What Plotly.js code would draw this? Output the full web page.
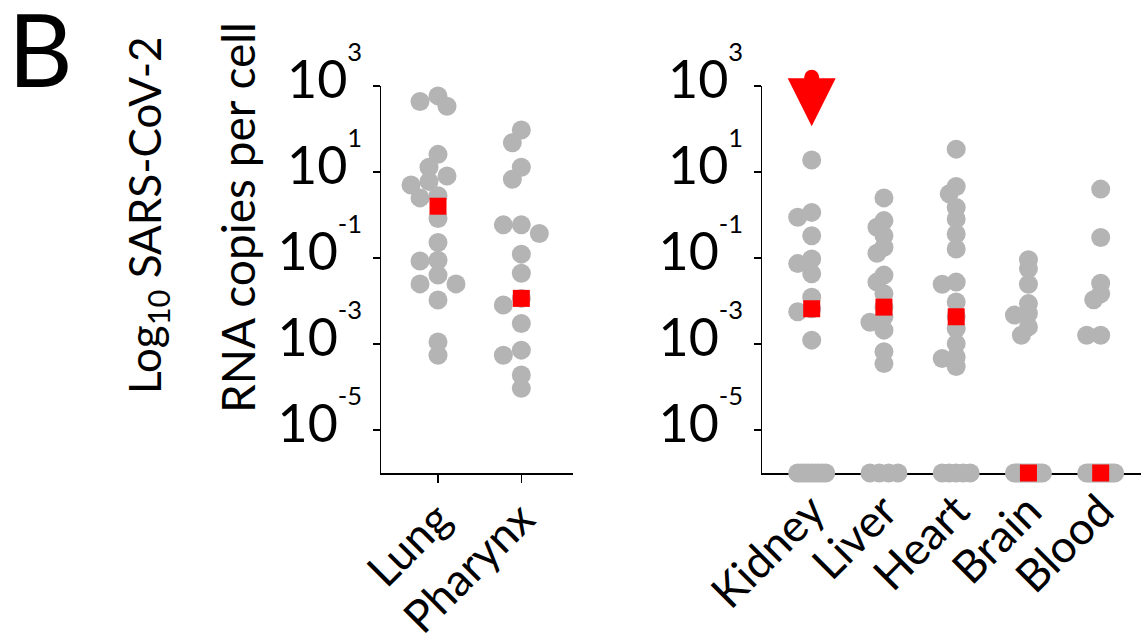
<!DOCTYPE html>
<html><head><meta charset="utf-8">
<script src="https://cdn.plot.ly/plotly-3.0.1.min.js"></script>
<style>html,body{margin:0;padding:0;background:#fff;} #chart{width:1141px;height:643px;}</style>
</head><body><div id="chart"></div>
<script>
// ---------- data (RNA copies per cell; 0 = not detected) ----------
const leftCategories = ['Lung', 'Pharynx'];
const rightCategories = ['Kidney', 'Liver', 'Heart', 'Brain', 'Blood'];

const lung    = [589, 437, 339, 25.7, 12.9, 8.1, 6.0, 5.0, 2.8, 2.5, 0.83, 0.23, 0.089, 0.085, 0.040, 0.025, 0.025, 0.0105, 0.00112, 0.00055];
const pharynx = [95, 48, 12.9, 6.8, 0.59, 0.59, 0.37, 0.123, 0.044, 0.0115, 0.0081, 0.0030, 0.00072, 0.00055, 0.00019, 0.000093];
const kidney  = [19, 1.15, 0.89, 0.33, 0.095, 0.074, 0.043, 0.0123, 0.0066, 0.0056, 0.00123, 0, 0, 0, 0, 0, 0, 0, 0, 0];
const liver   = [2.5, 0.74, 0.52, 0.33, 0.178, 0.129, 0.040, 0.0275, 0.0148, 0.0072, 0.0043, 0.0032, 0.0021, 0.00066, 0.00035, 0, 0, 0, 0];
const heart   = [34, 4.6, 3.1, 1.5, 0.81, 0.36, 0.162, 0.0275, 0.0245, 0.0095, 0.0043, 0.0023, 0.00102, 0.0005, 0.00046, 0.0003, 0, 0, 0, 0, 0];
const brain   = [0.091, 0.056, 0.0245, 0.0087, 0.0051, 0.0047, 0.0025, 0.0016, 0, 0, 0, 0, 0, 0, 0, 0, 0, 0, 0, 0];
const blood   = [4.0, 0.30, 0.026, 0.0148, 0.0107, 0.0016, 0.0016, 0, 0, 0, 0, 0, 0, 0, 0, 0, 0, 0, 0];

const leftMedians  = [1.6, 0.0115];
const rightMedians = [0.0066, 0.0072, 0.0043, 0, 0];
const kidneyOffScale = [1600];   // value above the axis maximum

const yTickVals = [1e-5, 1e-3, 1e-1, 1e1, 1e3];
const yTickText = ['10<sup><sup>-5</sup></sup>', '10<sup><sup>-3</sup></sup>', '10<sup><sup>-1</sup></sup>',
                   '10<sup><sup>1</sup></sup>', '10<sup><sup>3</sup></sup>'];

// ---------- geometry / style ----------
const W = 1141, H = 643, MT = 40, MB = 170;
const AXIS_TOP_PX = 86;                       // where 10^3 sits
const fullH = H - MT - MB;                    // overlay area height
const plotH = H - AXIS_TOP_PX - MB;           // visible axes height
const yLogRange = [-6, 3];
const pxPerDecade = plotH / (yLogRange[1] - yLogRange[0]);
const overlayRange = [yLogRange[0], yLogRange[1] + (AXIS_TOP_PX - MT) / pxPerDecade];
const FLOOR = Math.pow(10, yLogRange[0]);     // not-detected row drawn on the axis
const leftPx = [381, 573], rightPx = [762, 1141];
const leftRange = [-0.684, 1.62], rightRange = [-0.688, 4.558];
const leftPPU = (leftPx[1] - leftPx[0]) / (leftRange[1] - leftRange[0]);
const rightPPU = (rightPx[1] - rightPx[0]) / (rightRange[1] - rightRange[0]);
const GREY = '#b4b4b4', RED = '#ff0000';
const FONT = 'Lato, "Open Sans", sans-serif';
const py2paper = py => (H - MB - py) / fullH;

function swarm(vals, ppu, S, D) {
  const ZW = 14;
  const offs = new Array(vals.length).fill(0);
  const zeros = [], pos = [];
  vals.forEach((v, i) => (v > 0 ? pos : zeros).push(i));
  zeros.forEach((i, k) => {
    offs[i] = zeros.length > 1 ? (-ZW + 2 * ZW * k / (zeros.length - 1)) / ppu : 0;
  });
  const order = pos.slice().sort((a, b) => vals[b] - vals[a]);
  const placed = [];
  const cands = [0, -S, S, -2 * S, 2 * S, -3 * S, 3 * S];
  for (const i of order) {
    const py = -Math.log10(vals[i]) * pxPerDecade;
    let best = 0, bestScore = -1;
    for (const c of cands) {
      let minD = Infinity;
      for (const p of placed) minD = Math.min(minD, Math.hypot(p.x - c, p.y - py));
      if (minD >= D) { best = c; break; }
      if (minD > bestScore) { bestScore = minD; best = c; }
    }
    placed.push({x: best, y: py});
    offs[i] = best / ppu;
  }
  return offs;
}

function panelPoints(groups, ppu, S, D) {
  const xs = [], ys = [];
  groups.forEach((vals, c) => {
    const offs = swarm(vals, ppu, S, D);
    vals.forEach((v, i) => { xs.push(c + offs[i]); ys.push(v > 0 ? v : FLOOR); });
  });
  return {xs, ys};
}

const L = panelPoints([lung, pharynx], leftPPU, 9, 13);
const R = panelPoints([kidney, liver, heart, brain, blood], rightPPU, 7, 9);

const ARROW_SIZE = 48, ARROW_DROP_PX = 49;
const offIdx = rightCategories.indexOf('Kidney');

const traces = [
  {type: 'scatter', mode: 'markers', x: L.xs, y: L.ys, xaxis: 'x', yaxis: 'y', cliponaxis: false,
   marker: {color: GREY, size: 19, line: {width: 0}}, hoverinfo: 'y'},
  {type: 'scatter', mode: 'markers', x: R.xs, y: R.ys, xaxis: 'x2', yaxis: 'y2', cliponaxis: false,
   marker: {color: GREY, size: 19, line: {width: 0}}, hoverinfo: 'y'},
  {type: 'scatter', mode: 'markers', x: leftMedians.map((_, i) => i), y: leftMedians.map(v => v > 0 ? v : FLOOR),
   xaxis: 'x', yaxis: 'y', cliponaxis: false, marker: {symbol: 'square', color: RED, size: 17, line: {width: 0}}},
  {type: 'scatter', mode: 'markers', x: rightMedians.map((_, i) => i), y: rightMedians.map(v => v > 0 ? v : FLOOR),
   xaxis: 'x2', yaxis: 'y2', cliponaxis: false, marker: {symbol: 'square', color: RED, size: 17, line: {width: 0}}},
  {type: 'scatter', mode: 'markers', x: kidneyOffScale.map(() => offIdx), y: kidneyOffScale,
   xaxis: 'x2', yaxis: 'y3', cliponaxis: false, marker: {symbol: 'circle', color: RED, size: 15, line: {width: 0}}},
  {type: 'scatter', mode: 'markers', x: kidneyOffScale.map(() => offIdx),
   y: kidneyOffScale.map(v => Math.pow(10, Math.log10(v) - ARROW_DROP_PX / pxPerDecade)),
   xaxis: 'x2', yaxis: 'y3', cliponaxis: false, marker: {symbol: 'arrow-down', color: RED, size: ARROW_SIZE, line: {width: 0}}}
];

const visDomain = [0, plotH / fullH];
const yAxisBase = {
  type: 'log', range: yLogRange, domain: visDomain, tickvals: yTickVals, ticktext: yTickText,
  ticks: 'outside', ticklen: 7, tickwidth: 1.5, tickcolor: '#000', ticklabelshift: -6,
  showline: true, linecolor: '#000', linewidth: 1.5, showgrid: false, zeroline: false,
  tickfont: {family: FONT, size: 52, color: '#000'}, layer: 'below traces', fixedrange: true
};
const xAxisBase = {
  showline: true, linecolor: '#000', linewidth: 1.5, showgrid: false, zeroline: false,
  tickangle: -45, tickfont: {family: FONT, size: 45, color: '#000'}, ticklabelstandoff: -8,
  layer: 'below traces', fixedrange: true
};

const layout = {
  width: W, height: H, margin: {l: 0, r: 0, t: MT, b: MB},
  paper_bgcolor: '#fff', plot_bgcolor: 'rgba(0,0,0,0)', showlegend: false,
  font: {family: FONT, color: '#000'},
  xaxis: Object.assign({}, xAxisBase, {domain: [leftPx[0] / W, leftPx[1] / W], range: leftRange, anchor: 'y',
    tickvals: leftCategories.map((_, i) => i), ticktext: leftCategories, ticks: 'outside', ticklen: 8, tickwidth: 1.5, tickcolor: '#000'}),
  yaxis: Object.assign({}, yAxisBase, {anchor: 'x'}),
  xaxis2: Object.assign({}, xAxisBase, {domain: [rightPx[0] / W, rightPx[1] / W], range: rightRange, anchor: 'y2',
    tickvals: rightCategories.map((_, i) => i), ticktext: rightCategories, ticks: ''}),
  yaxis2: Object.assign({}, yAxisBase, {anchor: 'x2'}),
  yaxis3: {type: 'log', range: overlayRange, domain: [0, 1], anchor: 'x2', visible: false,
           showgrid: false, zeroline: false, fixedrange: true},
  annotations: [
    {text: 'B', xref: 'paper', yref: 'paper', x: 40 / W, y: py2paper(48), showarrow: false,
     xanchor: 'center', yanchor: 'middle', font: {family: FONT, size: 100, color: '#000'}},
    {text: 'Log<sub>10</sub> SARS-CoV-2', xref: 'paper', yref: 'paper', x: 148 / W, y: py2paper(215),
     showarrow: false, textangle: -90, xanchor: 'center', yanchor: 'middle', font: {family: FONT, size: 44, color: '#000'}},
    {text: 'RNA copies per cell', xref: 'paper', yref: 'paper', x: 237 / W, y: py2paper(218),
     showarrow: false, textangle: -90, xanchor: 'center', yanchor: 'middle', font: {family: FONT, size: 46, color: '#000'}}
  ]
};

Plotly.newPlot('chart', traces, layout, {displayModeBar: false, staticPlot: true});
</script>
</body></html>
